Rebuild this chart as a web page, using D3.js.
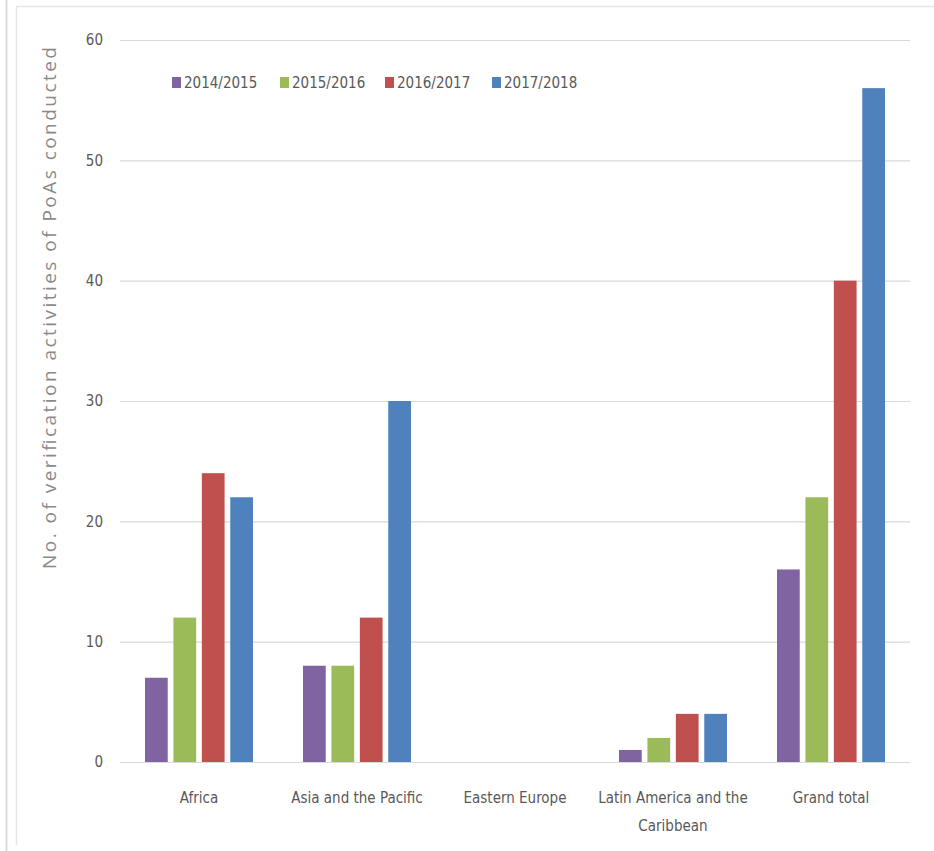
<!DOCTYPE html>
<html><head><meta charset="utf-8">
<script src="https://cdn.jsdelivr.net/npm/d3@7"></script>
<style>
body{margin:0;background:#fff;}
svg{display:block;}
</style></head>
<body>
<svg id="chart" width="934" height="851"></svg>
<script>
const categories = ["Africa", "Asia and the Pacific", "Eastern Europe", "Latin America and the Caribbean", "Grand total"];
const seriesNames = ["2014/2015", "2015/2016", "2016/2017", "2017/2018"];
const s2014 = [7, 8, 0, 1, 16];
const s2015 = [12, 8, 0, 2, 22];
const s2016 = [24, 12, 0, 4, 40];
const s2017 = [22, 30, 0, 4, 56];
const seriesValues = [s2014, s2015, s2016, s2017];
const colors = ["#8064A2", "#9BBB59", "#C0504D", "#4F81BD"];
const yTicks = [0, 10, 20, 30, 40, 50, 60];
const yTitle = "No. of verification activities of PoAs conducted";

const svg = d3.select("#chart");
const labelFont = "'Liberation Sans Narrow', 'Arial Narrow', 'DejaVu Sans Condensed', 'Liberation Sans', sans-serif";

// frame
svg.append("line").attr("x1",6.5).attr("x2",6.5).attr("y1",0).attr("y2",851).attr("stroke","#d9d9d9").attr("stroke-width",2);
svg.append("line").attr("x1",16.5).attr("x2",16.5).attr("y1",6).attr("y2",845).attr("stroke","#e6e6e6").attr("stroke-width",1.5);
svg.append("line").attr("x1",16).attr("x2",934).attr("y1",6.5).attr("y2",6.5).attr("stroke","#e6e6e6").attr("stroke-width",1.5);

const x0 = d3.scaleBand().domain(categories).range([120, 910]).padding(0);
const x1 = d3.scaleBand().domain(seriesNames).range([25, 133]).paddingInner(0.2).paddingOuter(0);
const y = d3.scaleLinear().domain([0, 60]).range([762, 40]);

// gridlines
svg.append("g").selectAll("line").data(yTicks).join("line")
  .attr("x1", 120).attr("x2", 910)
  .attr("y1", d => y(d) + 0.5).attr("y2", d => y(d) + 0.5)
  .attr("stroke", "#d9d9d9").attr("stroke-width", 1.2);

// y axis labels
const yAxis = d3.axisLeft(y).tickValues(yTicks).tickSize(0).tickPadding(0);
const yg = svg.append("g").attr("transform", "translate(103,0)").call(yAxis);
yg.select(".domain").remove();
yg.selectAll("text").attr("font-family", labelFont).attr("font-size", 15).attr("fill", "#595959");

// bars
const groups = svg.append("g").selectAll("g").data(categories).join("g")
  .attr("transform", d => `translate(${x0(d)},0)`);
groups.selectAll("rect").data((c, ci) => seriesNames.map((s, si) => ({s, si, v: seriesValues[si][ci]})))
  .join("rect")
  .attr("x", d => x1(d.s))
  .attr("width", x1.bandwidth())
  .attr("y", d => y(d.v))
  .attr("height", d => y(0) - y(d.v))
  .attr("fill", d => colors[d.si]);

// x labels
const xLabelLines = {
  "Latin America and the Caribbean": ["Latin America and the", "Caribbean"]
};
const xl = svg.append("g").selectAll("text").data(categories).join("text")
  .attr("x", d => x0(d) + x0.bandwidth() / 2)
  .attr("y", 803)
  .attr("text-anchor", "middle")
  .attr("font-family", labelFont).attr("font-size", 15).attr("fill", "#595959");
xl.each(function(d) {
  const lines = xLabelLines[d] || [d];
  d3.select(this).selectAll("tspan").data(lines).join("tspan")
    .attr("x", x0(d) + x0.bandwidth() / 2)
    .attr("dy", (l, i) => i === 0 ? 0 : 28)
    .text(l => l);
});

// y title
svg.append("text")
  .attr("transform", "translate(56,308) rotate(-90)")
  .attr("text-anchor", "middle")
  .attr("font-family", "'Open Sans', sans-serif").attr("font-size", 19).attr("fill", "#8a8a8a")
  .attr("textLength", 522).attr("lengthAdjust", "spacing")
  .text(yTitle);

// legend
const legendX = [172, 280, 385, 492];
const lg = svg.append("g").selectAll("g").data(seriesNames).join("g")
  .attr("transform", (d, i) => `translate(${legendX[i]},77)`);
lg.append("rect").attr("width", 9).attr("height", 11).attr("fill", (d, i) => colors[i]);
lg.append("text").attr("x", 12).attr("y", 11)
  .attr("font-family", labelFont).attr("font-size", 15).attr("fill", "#595959")
  .text(d => d);
</script>
</body></html>
